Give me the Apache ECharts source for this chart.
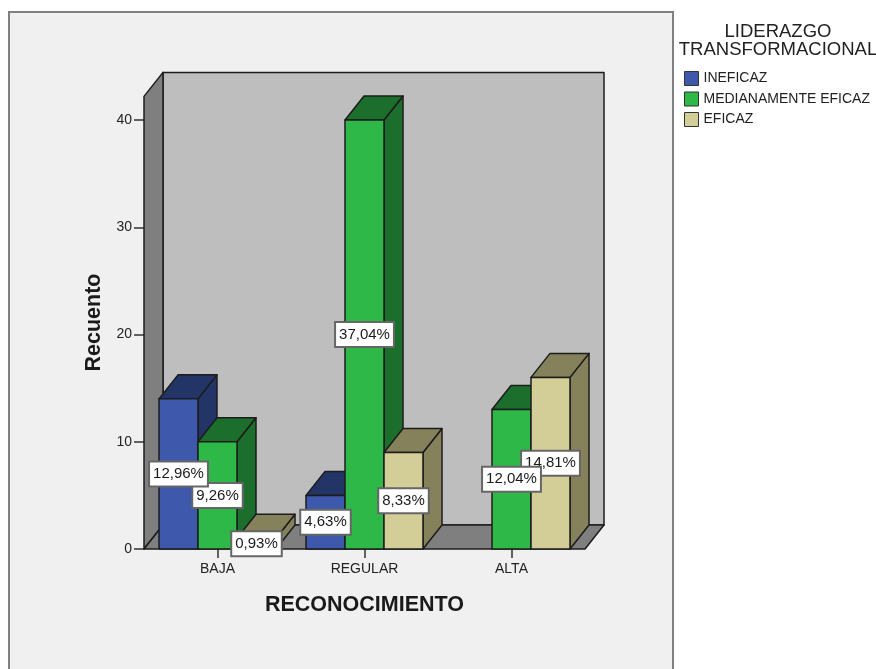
<!DOCTYPE html>
<html>
<head>
<meta charset="utf-8">
<style>html,body{margin:0;padding:0;background:#fff}#chart{width:876px;height:669px}</style>
<script src="https://cdn.jsdelivr.net/npm/echarts@6/dist/echarts.min.js"></script>
</head>
<body>
<div id="chart"></div>
<script>
// Recuento de RECONOCIMIENTO por LIDERAZGO TRANSFORMACIONAL
const categories = ['BAJA', 'REGULAR', 'ALTA'];
const ineficaz = [14, 5, null];
const medianamente = [10, 40, 13];
const eficaz = [1, 9, 16];
const ineficazLabels = ['12,96%', '4,63%', null];
const medianamenteLabels = ['9,26%', '37,04%', '12,04%'];
const eficazLabels = ['0,93%', '8,33%', '14,81%'];
const yTicks = { min: 0, max: 40, interval: 10 };
const wallTopValue = 42.2;

// Pseudo-3D extrusion of the box and the columns
const DEPTH_X = 19;
const DEPTH_Y = 24;
const BAR_WIDTH = 39;
const EDGE = '#1c1c1c';
const FONT = '"Liberation Sans", Arial, sans-serif';

const poly = (points, fill) => ({
  type: 'polygon',
  shape: { points },
  style: { fill, stroke: EDGE, lineWidth: 1.5, lineJoin: 'round' }
});

function renderWalls(params, api) {
  const band = api.size([1, 0])[0];
  const x0 = api.coord([0, 0])[0] - band / 2;
  const x1 = x0 + band * categories.length;
  const y0 = api.coord([0, 0])[1];
  const yt = api.coord([0, wallTopValue])[1];
  const dx = DEPTH_X, dy = DEPTH_Y;
  return {
    type: 'group',
    children: [
      poly([[x0 + dx, yt - dy], [x1 + dx, yt - dy], [x1 + dx, y0 - dy], [x0 + dx, y0 - dy]], '#bebebe'),
      poly([[x0, yt], [x0 + dx, yt - dy], [x0 + dx, y0 - dy], [x0, y0]], '#7f7f7f'),
      poly([[x0, y0], [x0 + dx, y0 - dy], [x1 + dx, y0 - dy], [x1, y0]], '#7f7f7f')
    ]
  };
}

function barSeries(name, values, labels, slot, front, shade) {
  return {
    type: 'custom',
    name,
    z: 3,
    itemStyle: { color: front },
    data: values.map((v, i) => [i, v]),
    encode: { x: 0, y: 1 },
    renderItem(params, api) {
      const v = api.value(1);
      if (v == null || isNaN(v)) return null;
      const top = api.coord([api.value(0), v]);
      const base = api.coord([api.value(0), 0]);
      const l = top[0] + (slot - 0.5) * BAR_WIDTH;
      const r = l + BAR_WIDTH;
      const t = top[1], b = base[1];
      const dx = DEPTH_X, dy = DEPTH_Y;
      return {
        type: 'group',
        children: [
          poly([[r, t], [r + dx, t - dy], [r + dx, b - dy], [r, b]], shade),
          poly([[l, t], [l + dx, t - dy], [r + dx, t - dy], [r, t]], shade),
          poly([[l, t], [r, t], [r, b], [l, b]], front),
          {
            type: 'text',
            z2: 100 - slot * 10,
            style: {
              text: labels[params.dataIndex],
              x: (l + r) / 2,
              y: (t + b) / 2,
              align: 'center',
              verticalAlign: 'middle',
              font: '15px ' + FONT,
              fill: '#1a1a1a',
              backgroundColor: '#ffffff',
              borderColor: '#666666',
              borderWidth: 2,
              padding: [4, 3, 4, 3]
            }
          }
        ]
      };
    }
  };
}

const chart = echarts.init(document.getElementById('chart'), null, { renderer: 'canvas' });
chart.setOption({
  animation: false,
  backgroundColor: '#ffffff',
  graphic: [{
    type: 'rect',
    z: -1,
    silent: true,
    shape: { x: 9, y: 12, width: 664, height: 720 },
    style: { fill: '#f0f0f0', stroke: '#808080', lineWidth: 2 }
  }],
  grid: { left: 144, width: 441, top: 120, height: 429, containLabel: false },
  title: {
    text: 'LIDERAZGO\nTRANSFORMACIONAL',
    left: 778,
    top: 23,
    padding: 0,
    textAlign: 'center',
    textStyle: { fontFamily: FONT, fontSize: 18.5, fontWeight: 'normal', color: '#222', lineHeight: 18, align: 'center' }
  },
  legend: {
    orient: 'vertical',
    left: 684,
    top: 71,
    padding: 0,
    itemWidth: 14,
    itemHeight: 14,
    itemGap: 5.5,
    icon: 'rect',
    selectedMode: false,
    data: ['INEFICAZ', 'MEDIANAMENTE EFICAZ', 'EFICAZ'],
    itemStyle: { borderColor: '#333', borderWidth: 1 },
    textStyle: { fontFamily: FONT, fontSize: 14, color: '#222' }
  },
  xAxis: {
    type: 'category',
    data: categories,
    name: 'RECONOCIMIENTO',
    nameLocation: 'middle',
    nameGap: 45,
    nameTextStyle: { fontFamily: FONT, fontSize: 21.5, fontWeight: 'bold', color: '#1a1a1a' },
    axisLine: { show: false },
    axisTick: { show: true, alignWithLabel: true, length: 9, lineStyle: { color: '#333', width: 1.5 } },
    axisLabel: { margin: 13, fontFamily: FONT, fontSize: 14, color: '#222' },
    splitLine: { show: false }
  },
  yAxis: {
    type: 'value',
    min: yTicks.min,
    max: yTicks.max,
    interval: yTicks.interval,
    name: 'Recuento',
    nameLocation: 'middle',
    nameGap: 39,
    nameRotate: 90,
    nameTextStyle: { fontFamily: FONT, fontSize: 21.5, fontWeight: 'bold', color: '#1a1a1a', padding: [0, 0, 0, 24] },
    axisLine: { show: false },
    axisTick: { show: true, length: 10, lineStyle: { color: '#333', width: 1.5 } },
    axisLabel: { margin: 12, fontFamily: FONT, fontSize: 14, color: '#222' },
    splitLine: { show: false }
  },
  series: [
    { type: 'custom', name: 'caja', z: 1, silent: true, data: [[0, 0]], encode: { x: 0, y: 1 }, renderItem: renderWalls },
    barSeries('INEFICAZ', ineficaz, ineficazLabels, -1, '#3e58ac', '#233467'),
    barSeries('MEDIANAMENTE EFICAZ', medianamente, medianamenteLabels, 0, '#2eb848', '#1c6e2c'),
    barSeries('EFICAZ', eficaz, eficazLabels, 1, '#d3ce97', '#85825b')
  ]
});
</script>
</body>
</html>
